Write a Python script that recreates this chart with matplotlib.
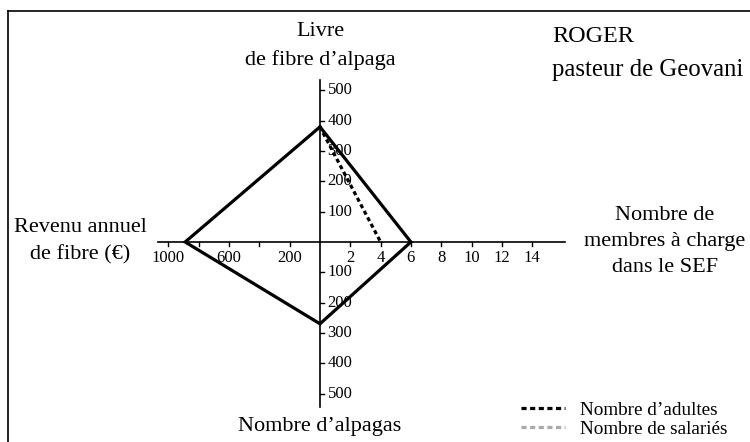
import matplotlib.pyplot as plt
from matplotlib.lines import Line2D

plt.rcParams['font.family'] = ['Liberation Serif', 'DejaVu Serif']

# ---- data ----
revenu = 890        # revenu annuel de fibre (EUR)
livre = 380         # livre de fibre d'alpaga
alpagas = 270       # nombre d'alpagas
membres = 6         # nombre de membres a charge
adultes = 4         # nombre d'adultes

# value of one graduation on each branch
step_revenu = 200
step_livre = 100
step_alpagas = 100
step_membres = 2

ticks_revenu = [200, 400, 600, 800, 1000]
labels_revenu = ["200", "", "600", "", "1000"]
ticks_membres = [2, 4, 6, 8, 10, 12, 14]
ticks_livre = [100, 200, 300, 400, 500]
ticks_alpagas = [100, 200, 300, 400, 500]

# ---- figure ----
px = 30.3  # pixels per graduation
fig = plt.figure(figsize=(7.5, 4.42), dpi=100)
ax = fig.add_axes([0, 0, 1, 1])
ax.set_xlim(-320 / px, (750 - 320) / px)
ax.set_ylim(-(442 - 242) / px, 242 / px)
ax.axis('off')


def py(p):
    # pixel row -> data y
    return (242 - p) / px


def pxx(p):
    # pixel column -> data x
    return (p - 320) / px


# frame (top and left only visible)
ax.plot([8 / 750, 1], [1 - 11 / 442, 1 - 11 / 442], transform=ax.transAxes,
        color='black', lw=1.2, clip_on=False)
ax.plot([8 / 750, 8 / 750], [0, 1 - 11 / 442], transform=ax.transAxes,
        color='black', lw=1.2, clip_on=False)

# axes
ax.plot([-5.35, 8.1], [0, 0], color='black', lw=1.2)
ax.plot([0, 0], [-5.45, 5.35], color='black', lw=1.2)

t = 4 / px
fs_tick = 12
for v, lab in zip(ticks_revenu, labels_revenu):
    x = -v / step_revenu
    ax.plot([x, x], [0, -t], color='black', lw=1)
    if lab:
        ax.text(x, -0.25, lab, ha='center', va='top', fontsize=fs_tick)
for v in ticks_membres:
    x = v / step_membres
    ax.plot([x, x], [0, -t], color='black', lw=1)
    ax.text(x, -0.25, str(v), ha='center', va='top', fontsize=fs_tick)
for v in ticks_livre:
    y = v / step_livre
    ax.plot([0, t], [y, y], color='black', lw=1)
    ax.text(0.25, y, str(v), ha='left', va='center', fontsize=fs_tick)
for v in ticks_alpagas:
    y = -v / step_alpagas
    ax.plot([0, t], [y, y], color='black', lw=1)
    ax.text(0.25, y, str(v), ha='left', va='center', fontsize=fs_tick)

# profile
xs = [0, membres / step_membres, 0, -revenu / step_revenu, 0]
ys = [livre / step_livre, 0, -alpagas / step_alpagas, 0, livre / step_livre]
ax.plot(xs, ys, color='black', lw=2.3, solid_joinstyle='miter')
ax.plot([0.1, adultes / step_membres], [livre / step_livre - 0.2, 0],
        color='black', lw=2.3, linestyle=(0, (1.3, 1.0)))

# axis titles
fs = 16
ax.text(0, py(32), "Livre", ha='center', va='center', fontsize=fs)
ax.text(0, py(60), "de fibre d\u2019alpaga", ha='center', va='center', fontsize=fs)
ax.text(pxx(80), py(228), "Revenu annuel", ha='center', va='center', fontsize=fs)
ax.text(pxx(80), py(255), "de fibre (\u20ac)", ha='center', va='center', fontsize=fs)
ax.text(pxx(665), py(216), "Nombre de", ha='center', va='center', fontsize=fs)
ax.text(pxx(665), py(242), "membres \u00e0 charge", ha='center', va='center', fontsize=fs)
ax.text(pxx(665), py(268), "dans le SEF", ha='center', va='center', fontsize=fs)
ax.text(0, py(427), "Nombre d\u2019alpagas", ha='center', va='center', fontsize=fs)
ax.text(pxx(552), py(37), "ROGER", ha='left', va='center', fontsize=17.4)
ax.text(pxx(552), py(70), "pasteur de Geovani", ha='left', va='center', fontsize=17.8)

# legend
handles = [
    Line2D([], [], color='black', lw=2.3, linestyle=(0, (1.6, 1.1))),
    Line2D([], [], color='#aaaaaa', lw=2.3, linestyle=(0, (1.6, 1.1))),
]
ax.legend(handles, ["Nombre d\u2019adultes", "Nombre de salari\u00e9s"],
          loc='lower left', bbox_to_anchor=(513 / 750, -0.008), frameon=False,
          fontsize=13.8, handlelength=2.3, labelspacing=0.1, handletextpad=0.8,
          borderaxespad=0)

fig.savefig("out.png", dpi=100)
